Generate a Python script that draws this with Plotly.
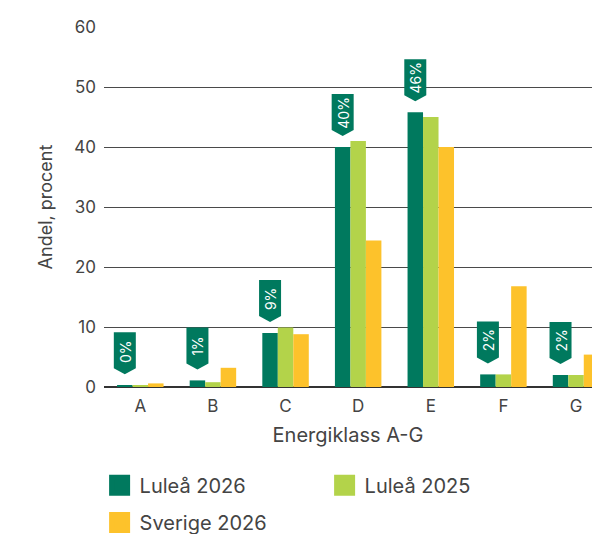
import plotly.graph_objects as go

categories = ["A", "B", "C", "D", "E", "F", "G"]
lulea_2026 = [0.3, 1.1, 9.0, 40.0, 45.8, 2.1, 2.0]
lulea_2025 = [0.3, 0.8, 9.9, 41.0, 45.0, 2.1, 2.0]
sverige_2026 = [0.6, 3.2, 8.8, 24.4, 40.0, 16.8, 5.4]
badge_labels = ["0%", "1%", "9%", "40%", "46%", "2%", "2%"]
series_names = ["Luleå 2026", "Luleå 2025", "Sverige 2026"]

DARK = "#00795E"
LIGHT = "#B3D34A"
YELLOW = "#FDC22B"
TXT = "#444444"
FONT = "Inter"
colors = [DARK, LIGHT, YELLOW]

fig = go.Figure()
for name, vals, col in zip(series_names, [lulea_2026, lulea_2025, sverige_2026], colors):
    fig.add_bar(name=name, x=categories, y=vals, marker_color=col,
                marker_line_width=0, showlegend=False)

# legend swatches (legend-only entries)
legend_ids = ["legend", "legend", "legend2"]
for name, col, lg in zip(series_names, colors, legend_ids):
    fig.add_scatter(x=[None], y=[None], mode="markers", name=name, legend=lg,
                    marker=dict(symbol="square", size=16, color=col,
                                line=dict(width=5, color=col)))

bargap = 0.36
bar_w = (1 - bargap) / 3
for i, (v, lab) in enumerate(zip(lulea_2026, badge_labels)):
    cx = i - bar_w
    fig.add_shape(type="path", xref="x", yref="y", xsizemode="pixel", ysizemode="pixel",
                  xanchor=cx, yanchor=v,
                  path="M -11,17 L -11,53 L 11,53 L 11,17 L 0,11 Z",
                  fillcolor=DARK, line=dict(width=0), layer="above")
    fig.add_annotation(x=cx, y=v, xref="x", yref="y", text=lab, showarrow=False,
                       textangle=-90, yshift=34, xanchor="center", yanchor="middle",
                       font=dict(family=FONT, size=14, color="white"))

legend_common = dict(orientation="h", xanchor="left", yanchor="top",
                     font=dict(family=FONT, size=20, color=TXT),
                     entrywidth=180, entrywidthmode="pixels", traceorder="normal",
                     itemclick=False, itemdoubleclick=False, itemsizing="trace",
                     bgcolor="rgba(0,0,0,0)")

fig.update_layout(
    width=592, height=534,
    margin=dict(l=104, r=0, t=27, b=147, autoexpand=False),
    paper_bgcolor="white", plot_bgcolor="white",
    barmode="group", bargap=bargap, bargroupgap=0,
    font=dict(family=FONT, color=TXT, size=16),
    showlegend=True,
    legend=dict(x=-0.009, y=-0.219, **legend_common),
    legend2=dict(x=-0.009, y=-0.322, **legend_common),
    xaxis=dict(range=[-0.5, 6.22], showgrid=False, showline=False, ticks="",
               ticklabelstandoff=7,
               tickfont=dict(size=17, color=TXT),
               title=dict(text="Energiklass A-G", font=dict(size=20, color=TXT), standoff=12)),
    yaxis=dict(range=[0, 60], dtick=10, showgrid=True, gridcolor="#4a4a4a", gridwidth=1,
               zeroline=True, zerolinecolor="#333333", zerolinewidth=1.5,
               showline=False, ticks="", ticklabelstandoff=7,
               tickfont=dict(size=17, color=TXT),
               title=dict(text="Andel, procent", font=dict(size=18, color=TXT), standoff=16)),
)

fig.write_html("out.html")
